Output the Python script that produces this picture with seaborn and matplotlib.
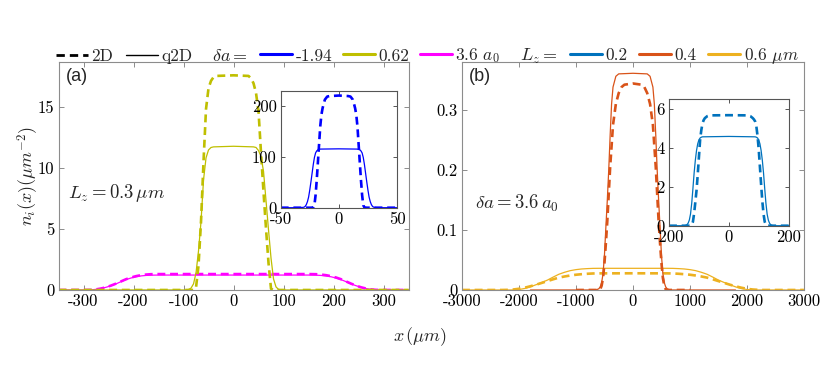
import numpy as np
import pandas as pd
import seaborn as sns
import matplotlib
matplotlib.use('Agg')
import matplotlib.pyplot as plt
from matplotlib.lines import Line2D

# ---- panel (a): Lz = 0.3 um, x in um ----
a_yel_x = [-350, -100, -95, -90, -85, -80, -75, -70, -65, -60, -55, -50, -45, -40, 0,
           40, 45, 50, 55, 60, 65, 70, 75, 80, 85, 90, 95, 100, 350]
a_yel_q2d = [0, 0, 0, 0.04, 0.15, 0.5, 1.4, 3.2, 5.6, 9.0, 10.8, 11.45, 11.65, 11.7, 11.75,
             11.7, 11.65, 11.4, 10.9, 9.7, 7.3, 4.9, 2.6, 0.9, 0.25, 0.05, 0.01, 0, 0]

a_yel2_x = [-350, -80, -75, -70, -65, -60, -55, -50, -45, -40, -35, 0,
            30, 35, 40, 45, 50, 55, 60, 65, 70, 75, 80, 350]
a_yel_2d = [0, 0, 0.2, 2.0, 5.6, 10.5, 14.8, 16.5, 17.1, 17.4, 17.5, 17.55,
            17.5, 17.3, 16.9, 16.1, 14.6, 11.2, 8.0, 5.0, 2.2, 0.1, 0, 0]

a_mag_x = [-350, -300, -285, -275, -265, -255, -245, -235, -225, -215, -205, -195, -185, -175, -165, -150, 0,
           150, 165, 175, 185, 195, 205, 215, 225, 235, 245, 255, 265, 275, 285, 300, 350]
a_mag_q2d = [0, 0, 0.01, 0.05, 0.12, 0.22, 0.35, 0.5, 0.68, 0.85, 0.98, 1.08, 1.15, 1.19, 1.21, 1.22, 1.22,
             1.22, 1.21, 1.19, 1.15, 1.08, 0.98, 0.85, 0.68, 0.5, 0.35, 0.22, 0.12, 0.05, 0.01, 0, 0]
a_mag_2d = [0, 0, 0.01, 0.05, 0.12, 0.22, 0.36, 0.52, 0.7, 0.88, 1.02, 1.13, 1.21, 1.26, 1.29, 1.3, 1.3,
            1.3, 1.29, 1.26, 1.21, 1.13, 1.02, 0.88, 0.7, 0.52, 0.36, 0.22, 0.12, 0.05, 0.01, 0, 0]

# inset (a): delta a = -1.94
ia_x_2d = [-50, -24, -22, -21, -20, -19, -18, -17, -16, -15, -14, -13, -12, -10, -8, 0,
           8, 10, 12, 13, 14, 15, 16, 17, 18, 19, 20, 21, 22, 24, 50]
ia_2d = [0, 0, 0.5, 5, 25, 55, 90, 125, 160, 183, 196, 205, 213, 219, 220, 221,
         220, 219, 213, 205, 196, 183, 160, 125, 90, 55, 25, 5, 0.5, 0, 0]
ia_x_q2d = [-50, -34, -32, -30, -29, -28, -27, -26, -25, -24, -23, -22, -21, -20, -19, -18, -16, 0,
            16, 18, 19, 20, 21, 22, 23, 24, 25, 26, 27, 28, 29, 30, 32, 34, 50]
ia_q2d = [0, 0, 0.3, 1, 2.5, 6, 12, 21, 35, 51, 68, 85, 99, 108, 112, 114, 115.5, 116,
          115.5, 114, 112, 108, 99, 85, 68, 51, 35, 21, 12, 6, 2.5, 1, 0.3, 0, 0]

# ---- panel (b): delta a = 3.6 a0 ----
b_org_x = [-1800, -650, -600, -575, -550, -525, -500, -475, -450, -425, -400, -375, -350, -300, -250, 0,
           250, 300, 350, 375, 400, 425, 450, 475, 500, 525, 550, 575, 600, 650, 1800]
b_org_q2d = [0, 0, 0.002, 0.005, 0.012, 0.027, 0.058, 0.105, 0.15, 0.2, 0.258, 0.31, 0.338, 0.356, 0.36, 0.361,
             0.36, 0.356, 0.338, 0.31, 0.258, 0.2, 0.15, 0.105, 0.058, 0.027, 0.012, 0.005, 0.002, 0, 0]
b_org2_x = [-1000, -600, -575, -550, -525, -500, -475, -450, -425, -400, -350, -300, -250, -200, -150, 0,
            150, 200, 250, 300, 350, 400, 425, 450, 475, 500, 525, 550, 575, 600, 1000]
b_org_2d = [0, 0, 0.001, 0.007, 0.02, 0.045, 0.078, 0.115, 0.16, 0.205, 0.275, 0.31, 0.328, 0.338, 0.342, 0.344,
            0.342, 0.338, 0.328, 0.31, 0.275, 0.205, 0.16, 0.115, 0.078, 0.045, 0.02, 0.007, 0.001, 0, 0]

b_yel_x = [-3000, -2300, -2200, -2100, -2000, -1900, -1800, -1700, -1600, -1500, -1400, -1300, -1200, -1100,
           -1000, -900, -800, -700, -600, 0, 600, 700, 800, 900, 1000, 1100, 1200, 1300, 1400, 1500, 1600,
           1700, 1800, 1900, 2000, 2100, 2200, 2300, 3000]
b_yel_q2d = [0, 0, 0, 0, 0.0008, 0.0025, 0.0052, 0.0088, 0.0125, 0.0165, 0.0215, 0.0262, 0.0295, 0.0322,
             0.0339, 0.035, 0.0356, 0.036, 0.0361, 0.0361, 0.0361, 0.036, 0.0356, 0.035, 0.0339, 0.0322, 0.0295,
             0.0262, 0.0215, 0.0165, 0.0125, 0.0088, 0.0052, 0.0025, 0.0008, 0, 0, 0, 0]
b_yel_2d = [0, 0, 0.0002, 0.0008, 0.002, 0.0038, 0.0062, 0.0088, 0.0118, 0.0148, 0.0178, 0.0206, 0.0225, 0.0241,
            0.0254, 0.0263, 0.027, 0.0275, 0.0277, 0.0278, 0.0277, 0.0275, 0.027, 0.0263, 0.0254, 0.0241, 0.0225,
            0.0206, 0.0178, 0.0148, 0.0118, 0.0088, 0.0062, 0.0038, 0.002, 0.0008, 0.0002, 0, 0]

# inset (b): Lz = 0.2
ib_x_q2d = [-200, -148, -144, -140, -136, -132, -128, -124, -120, -116, -112, -108, -104, -100, -96, -92, -88, 0,
            88, 92, 96, 100, 104, 108, 112, 116, 120, 124, 128, 132, 136, 140, 144, 148, 200]
ib_q2d = [0, 0, 0.02, 0.05, 0.13, 0.29, 0.6, 1.15, 1.9, 2.7, 3.35, 3.85, 4.2, 4.4, 4.5, 4.54, 4.56, 4.58,
          4.56, 4.54, 4.5, 4.4, 4.2, 3.85, 3.35, 2.7, 1.9, 1.15, 0.6, 0.29, 0.13, 0.05, 0.02, 0, 0]
ib_x_2d = [-200, -128, -124, -120, -116, -112, -108, -104, -100, -96, -92, -88, -84, -80, -72, -64, 0,
           64, 72, 80, 84, 88, 92, 96, 100, 104, 108, 112, 116, 120, 124, 128, 200]
ib_2d = [0, 0, 0.05, 0.2, 0.63, 1.2, 1.8, 2.6, 3.5, 4.4, 4.9, 5.25, 5.42, 5.52, 5.62, 5.66, 5.67,
         5.66, 5.62, 5.52, 5.45, 5.35, 5.1, 4.6, 3.9, 3.0, 2.1, 1.25, 0.6, 0.2, 0.05, 0, 0]

BLUE, OLIVE, MAG = '#0000FF', '#BFBF00', '#FF00FF'
C02, C04, C06 = '#0072BD', '#D95319', '#EDB120'
DASH = (0, (3, 1.8))
SP = '#8c8c8c'

sns.set_style('white')
plt.rcParams['font.family'] = 'serif'
plt.rcParams['font.serif'] = ['cmr10', 'DejaVu Serif']
plt.rcParams['mathtext.fontset'] = 'cm'
plt.rcParams['axes.unicode_minus'] = False
plt.rcParams['axes.formatter.use_mathtext'] = False


def draw(ax, x, y, color, dashed, lw=None):
    df = pd.DataFrame({'x': x, 'y': y})
    if dashed:
        sns.lineplot(data=df, x='x', y='y', ax=ax, color=color, linewidth=lw or 1.9,
                     linestyle=DASH, estimator=None, sort=False)
    else:
        sns.lineplot(data=df, x='x', y='y', ax=ax, color=color, linewidth=lw or 0.9,
                     estimator=None, sort=False)


def style(ax, col=SP, size=12, tl=3.5):
    ax.set_xlabel('')
    ax.set_ylabel('')
    for s in ax.spines.values():
        s.set_color(col)
        s.set_linewidth(0.8)
        s.set_visible(True)
    ax.tick_params(direction='in', length=tl, width=0.7, color=col, labelcolor='black',
                   labelsize=size, top=True, right=True, bottom=True, left=True, pad=3)


fig = plt.figure(figsize=(8.3, 3.66), dpi=100)
ax_a = fig.add_axes([0.0705, 0.2077, 0.4217, 0.6216])
ax_b = fig.add_axes([0.5566, 0.2077, 0.4120, 0.6216])
in_a = fig.add_axes([0.3382, 0.4325, 0.1401, 0.3189])
in_b = fig.add_axes([0.8060, 0.3833, 0.1442, 0.3462])

# panel (a)
draw(ax_a, a_mag_x, a_mag_q2d, MAG, False)
draw(ax_a, a_mag_x, a_mag_2d, MAG, True)
draw(ax_a, a_yel_x, a_yel_q2d, OLIVE, False)
draw(ax_a, a_yel2_x, a_yel_2d, OLIVE, True)
ax_a.set_xlim(-350, 350)
ax_a.set_ylim(0, 18.6)
ax_a.set_xticks([-300, -200, -100, 0, 100, 200, 300])
ax_a.set_yticks([0, 5, 10, 15])
style(ax_a)
ax_a.text(-331, 7.9, r'$L_z = 0.3\,\mu m$', fontsize=13.5, va='center', ha='left')
ax_a.text(0.02, 0.975, '(a)', transform=ax_a.transAxes, fontsize=13, va='top', ha='left',
          family='Liberation Sans')

draw(in_a, ia_x_q2d, ia_q2d, BLUE, False)
draw(in_a, ia_x_2d, ia_2d, BLUE, True)
in_a.set_xlim(-50, 50)
in_a.set_ylim(0, 230)
in_a.set_xticks([-50, 0, 50])
in_a.set_yticks([0, 100, 200])
style(in_a, col='#555555', tl=3)

# panel (b)
draw(ax_b, b_yel_x, b_yel_q2d, C06, False)
draw(ax_b, b_yel_x, b_yel_2d, C06, True)
draw(ax_b, b_org2_x, b_org_2d, C04, True)
draw(ax_b, b_org_x, b_org_q2d, C04, False)
ax_b.set_xlim(-3000, 3000)
ax_b.set_ylim(0, 0.379)
ax_b.set_xticks([-3000, -2000, -1000, 0, 1000, 2000, 3000])
ax_b.set_yticks([0, 0.1, 0.2, 0.3])
ax_b.set_yticklabels(['0', '0.1', '0.2', '0.3'])
style(ax_b)
ax_b.text(-2766, 0.145, r'$\delta a = 3.6\,a_0$', fontsize=13.5, va='center', ha='left')
ax_b.text(0.02, 0.975, '(b)', transform=ax_b.transAxes, fontsize=13, va='top', ha='left',
          family='Liberation Sans')

draw(in_b, ib_x_q2d, ib_q2d, C02, False)
draw(in_b, ib_x_2d, ib_2d, C02, True)
in_b.set_xlim(-200, 200)
in_b.set_ylim(0, 6.5)
in_b.set_xticks([-200, 0, 200])
in_b.set_yticks([0, 2, 4, 6])
style(in_b, col='#555555', tl=3)

# axis labels
fig.text(0.506, 0.079, r'$x\,(\mu m)$', fontsize=13, ha='center', va='center')
fig.text(0.034, 0.519, r'$n_i(x)(\mu m^{-2})$', fontsize=13, ha='center', va='center', rotation=90)

# legends across the top
ly = 1 - 56 / 366
kw = dict(loc='center left', frameon=False, borderpad=0, borderaxespad=0, fontsize=12.5,
          handlelength=1.85, handletextpad=0.2)
h1 = [Line2D([], [], color='black', lw=2, ls=DASH), Line2D([], [], color='black', lw=1)]
fig.legend(h1, ['2D', 'q2D'], bbox_to_anchor=(56 / 830, ly), ncol=2, columnspacing=0.7, **kw)
fig.text(212 / 830, ly, r'$\delta a=$', fontsize=13, va='center', ha='left')
h2 = [Line2D([], [], color=c, lw=2.2) for c in (BLUE, OLIVE, MAG)]
fig.legend(h2, ['-1.94', '0.62', r'3.6 $a_0$'], bbox_to_anchor=(260 / 830, ly), ncol=3,
           columnspacing=0.6, **kw)
fig.text(520 / 830, ly, r'$L_z=$', fontsize=13, va='center', ha='left')
h3 = [Line2D([], [], color=c, lw=2.2) for c in (C02, C04, C06)]
fig.legend(h3, ['0.2', '0.4', r'0.6 $\mu m$'], bbox_to_anchor=(570 / 830, ly), ncol=3,
           columnspacing=0.65, **kw)

fig.savefig('out.png', dpi=100)
